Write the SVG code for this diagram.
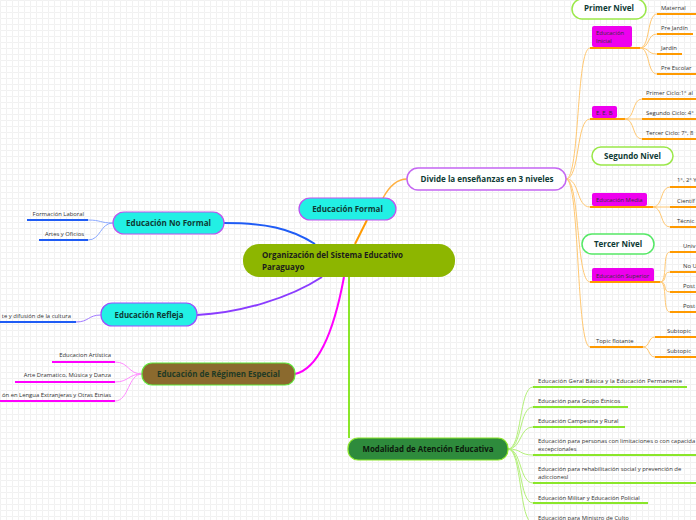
<svg xmlns="http://www.w3.org/2000/svg" width="696" height="520" viewBox="0 0 696 520">
<defs>
<pattern id="grid" width="6" height="6" patternUnits="userSpaceOnUse"><path d="M6 0.5H0.5V6" fill="none" stroke="#f1f1f1" stroke-width="1"/></pattern>
<style>
text{font-family:"Open Sans","Liberation Sans",sans-serif;}
.s{font-size:5.9px;fill:#333;}
.b{font-weight:bold;font-size:8px;}
.dk{fill:#0e3b35;}
.mag{fill:#ee00ee;}
.ul-o{stroke:#ff9a00;stroke-width:2;fill:none;}
.cv-o{stroke:#ffc872;stroke-width:1;fill:none;}
.ul-b{stroke:#1f5cf5;stroke-width:2;fill:none;}
.cv-b{stroke:#8aa8ff;stroke-width:1;fill:none;}
.ul-m{stroke:#ff00ff;stroke-width:2;fill:none;}
.cv-m{stroke:#ff8cff;stroke-width:1;fill:none;}
.ul-g{stroke:#8ae62a;stroke-width:2;fill:none;}
.cv-g{stroke:#b4f07a;stroke-width:1;fill:none;}
</style>
</defs>
<rect width="696" height="520" fill="#ffffff"/>
<rect width="696" height="520" fill="url(#grid)"/>

<g id="connectors">
<path d="M355,244 L367,220" stroke="#ff9a00" stroke-width="2" fill="none"/>
<path d="M315,244 C290,228 265,223 224,223" stroke="#1f5cf5" stroke-width="2" fill="none"/>
<path d="M322,277 C290,298 240,313 197,315" stroke="#8a3cff" stroke-width="2" fill="none"/>
<path d="M344,277 C336,320 322,368 295,374" stroke="#ff00ff" stroke-width="2" fill="none"/>
<path d="M349,277 L349,438" stroke="#8ae62a" stroke-width="2" fill="none"/>
<path d="M383,198 C390,185 397,179 407,179" stroke="#ffb040" stroke-width="1.5" fill="none"/>
<path class="cv-o" d="M566,179 C580,179 576,48 590,48"/>
<path class="cv-o" d="M566,179 C580,179 576,119 590,119"/>
<path class="cv-o" d="M566,179 C580,179 576,207 590,207"/>
<path class="cv-o" d="M566,179 C580,179 576,282 590,282"/>
<path class="cv-o" d="M566,179 C580,179 576,347 590,347"/>
<path class="cv-o" d="M640,48 C650,48 647,14 657,14"/>
<path class="cv-o" d="M640,48 C650,48 647,34 657,34"/>
<path class="cv-o" d="M640,48 C650,48 647,54 657,54"/>
<path class="cv-o" d="M640,48 C650,48 647,74 657,74"/>
<path class="cv-o" d="M625,119 C635,119 632,99 642,99"/>
<path class="cv-o" d="M625,119 L642,119"/>
<path class="cv-o" d="M625,119 C635,119 632,139 642,139"/>
<path class="cv-o" d="M653,207 C663,207 660,187 670,187"/>
<path class="cv-o" d="M653,207 L670,207"/>
<path class="cv-o" d="M653,207 C663,207 660,227 670,227"/>
<path class="cv-o" d="M660,282 C668,282 662,252 670,252"/>
<path class="cv-o" d="M660,282 C668,282 662,272 670,272"/>
<path class="cv-o" d="M660,282 C668,282 662,292 670,292"/>
<path class="cv-o" d="M660,282 C668,282 662,312 670,312"/>
<path class="cv-o" d="M643,347 C650,347 648,337 655,337"/>
<path class="cv-o" d="M643,347 C650,347 648,357 655,357"/>
<path class="cv-b" d="M113,223 C100,223 101,220 88,220"/>
<path class="cv-b" d="M113,223 C100,223 101,240 88,240"/>
<path stroke="#a078ff" stroke-width="1" fill="none" d="M101,315 C88,315 89,322 76,322"/>
<path class="cv-m" d="M142,374 C128,374 129,362 115,362"/>
<path class="cv-m" d="M142,374 C128,374 129,382 115,382"/>
<path class="cv-m" d="M142,374 C128,374 129,401 115,401"/>
<path class="cv-g" d="M508,449 C522,449 519,387 533,387"/>
<path class="cv-g" d="M508,449 C522,449 519,407 533,407"/>
<path class="cv-g" d="M508,449 C522,449 519,427 533,427"/>
<path class="cv-g" d="M508,449 C522,449 519,455 533,455"/>
<path class="cv-g" d="M508,449 C522,449 519,483 533,483"/>
<path class="cv-g" d="M508,449 C522,449 519,503 533,503"/>
<path class="cv-g" d="M508,449 C522,449 519,523 533,523"/>
</g>

<g id="central">
<rect x="243" y="244" width="212" height="33" rx="16" fill="#8db600"/>
<text class="b" x="262" y="258" fill="#1c1c1c" textLength="141" lengthAdjust="spacingAndGlyphs">Organización del Sistema Educativo</text>
<text class="b" x="262" y="270" fill="#1c1c1c">Paraguayo</text>
</g>

<g id="educacion-formal">
<rect x="299" y="198" width="97" height="22" rx="11" fill="#22f0e4" stroke="#c050f0" stroke-width="1.2"/>
<text class="b dk" x="347.5" y="212" text-anchor="middle">Educación Formal</text>
</g>

<g id="divide">
<rect x="407" y="168" width="159" height="22" rx="11" fill="#ffffff" stroke="#c466f2" stroke-width="1.5"/>
<text class="b dk" x="487" y="182" text-anchor="middle" font-size="7.5" textLength="133" lengthAdjust="spacingAndGlyphs">Divide la enseñanzas en 3 niveles</text>
</g>

<g id="primer-nivel">
<rect x="572" y="-1" width="74" height="20" rx="10" fill="#ffffff" stroke="#9be84a" stroke-width="1.5"/>
<text class="b dk" x="609" y="11" text-anchor="middle" font-size="8.5">Primer Nivel</text>
</g>
<g id="segundo-nivel">
<rect x="592" y="147" width="81" height="18" rx="9" fill="#ffffff" stroke="#9be84a" stroke-width="1.5"/>
<text class="b dk" x="632.5" y="159" text-anchor="middle" font-size="8">Segundo Nivel</text>
</g>
<g id="tercer-nivel">
<rect x="582" y="234" width="72" height="20" rx="10" fill="#ffffff" stroke="#55e866" stroke-width="1.5"/>
<text class="b dk" x="618" y="247" text-anchor="middle" font-size="8.5">Tercer Nivel</text>
</g>

<g id="educacion-inicial">
<rect class="mag" x="592" y="26" width="40" height="21" rx="2"/>
<text class="s" x="596" y="35" font-size="5.5" fill="#222">Educación</text>
<text class="s" x="596" y="43" font-size="5.5" fill="#222">Inicial</text>
<path class="ul-o" d="M590,48 H640"/>
</g>
<g id="maternal"><text class="s" x="661" y="9.5">Maternal</text><path class="ul-o" d="M657,14 H696"/></g>
<g id="pre-jardin"><text class="s" x="661" y="29.5">Pre Jardín</text><path class="ul-o" d="M657,34 H693"/></g>
<g id="jardin"><text class="s" x="661" y="49.5">Jardín</text><path class="ul-o" d="M657,54 H682"/></g>
<g id="pre-escolar"><text class="s" x="661" y="69.5">Pre Escolar</text><path class="ul-o" d="M657,74 H696"/></g>

<g id="eeb">
<rect class="mag" x="592" y="106" width="25" height="12" rx="2"/>
<text class="s" x="596" y="114.5" font-size="5.5" fill="#222">E. E. B</text>
<path class="ul-o" d="M590,119 H625"/>
</g>
<g id="primer-ciclo"><text class="s" x="646" y="94.5">Primer Ciclo:1° al</text><path class="ul-o" d="M642,99 H696"/></g>
<g id="segundo-ciclo"><text class="s" x="646" y="114.5">Segundo Ciclo: 4°</text><path class="ul-o" d="M642,119 H696"/></g>
<g id="tercer-ciclo"><text class="s" x="646" y="134.5">Tercer Ciclo: 7°, 8</text><path class="ul-o" d="M642,139 H696"/></g>

<g id="educacion-media">
<rect class="mag" x="592" y="193" width="55" height="13" rx="2"/>
<text class="s" x="596" y="202" font-size="5.5" fill="#222">Educación Media</text>
<path class="ul-o" d="M590,207 H653"/>
</g>
<g id="media-1"><text class="s" x="677" y="181.5">1°, 2° Y</text><path class="ul-o" d="M670,187 H696"/></g>
<g id="media-2"><text class="s" x="677" y="202.5">Científ</text><path class="ul-o" d="M670,207 H696"/></g>
<g id="media-3"><text class="s" x="677" y="222.5">Técnic</text><path class="ul-o" d="M670,227 H696"/></g>

<g id="educacion-superior">
<rect class="mag" x="592" y="268" width="62" height="14" rx="2"/>
<text class="s" x="596" y="277.5" font-size="5.5" fill="#222">Educación Superior</text>
<path class="ul-o" d="M590,282 H660"/>
</g>
<g id="sup-1"><text class="s" x="683" y="247.5">Univ</text><path class="ul-o" d="M670,252 H696"/></g>
<g id="sup-2"><text class="s" x="683" y="267.5">No U</text><path class="ul-o" d="M670,272 H696"/></g>
<g id="sup-3"><text class="s" x="683" y="287.5">Post</text><path class="ul-o" d="M670,292 H696"/></g>
<g id="sup-4"><text class="s" x="683" y="307.5">Post</text><path class="ul-o" d="M670,312 H696"/></g>

<g id="topic-flotante"><text class="s" x="596" y="342.5">Topic flotante</text><path class="ul-o" d="M590,347 H643"/></g>
<g id="subtopic-1"><text class="s" x="667" y="332.5">Subtopic</text><path class="ul-o" d="M655,337 H696"/></g>
<g id="subtopic-2"><text class="s" x="667" y="352.5">Subtopic</text><path class="ul-o" d="M655,357 H696"/></g>

<g id="educacion-no-formal">
<rect x="113" y="212" width="111" height="22" rx="11" fill="#22f0e4" stroke="#c050f0" stroke-width="1.2"/>
<text class="b dk" x="168.5" y="226" text-anchor="middle" textLength="85" lengthAdjust="spacingAndGlyphs">Educación No Formal</text>
</g>
<g id="formacion-laboral"><text class="s" x="84" y="215.5" text-anchor="end">Formación Laboral</text><path class="ul-b" d="M27,220 H88"/></g>
<g id="artes-oficios"><text class="s" x="84" y="235.5" text-anchor="end">Artes y Oficios</text><path class="ul-b" d="M39,240 H88"/></g>

<g id="educacion-refleja">
<rect x="101" y="303" width="96" height="23" rx="11" fill="#22f0e4" stroke="#9a4cff" stroke-width="1.2"/>
<text class="b dk" x="149" y="318" text-anchor="middle" textLength="69" lengthAdjust="spacingAndGlyphs">Educación Refleja</text>
</g>
<g id="arte-cultura"><text class="s" x="71" y="317.5" text-anchor="end">te y difusión de la cultura</text><path class="ul-b" d="M0,322 H76"/></g>

<g id="regimen-especial">
<rect x="142" y="363" width="153" height="22" rx="10" fill="#8b6a2e" stroke="#5ee83a" stroke-width="1.2"/>
<text class="b" x="218.5" y="377" text-anchor="middle" fill="#1f3a25" textLength="123" lengthAdjust="spacingAndGlyphs">Educación de Régimen Especial</text>
</g>
<g id="artistica"><text class="s" x="111" y="356.5" text-anchor="end">Educacion Artística</text><path class="ul-m" d="M52,362 H115"/></g>
<g id="dramatico"><text class="s" x="111" y="376.5" text-anchor="end">Arte  Dramatico, Música y Danza</text><path class="ul-m" d="M15,382 H115"/></g>
<g id="lengua"><text class="s" x="111" y="396.5" text-anchor="end">ón en Lengua Extranjeras y  Otras Etnias</text><path class="ul-m" d="M0,401 H115"/></g>

<g id="modalidad">
<rect x="348" y="438" width="160" height="22" rx="10" fill="#2e8b3c" stroke="#8ae62a" stroke-width="1.2"/>
<text class="b" x="428" y="452" text-anchor="middle" fill="#0c1a0c" textLength="131" lengthAdjust="spacingAndGlyphs">Modalidad de Atención Educativa</text>
</g>
<g id="mod-1"><text class="s" x="538" y="382.5" textLength="144" lengthAdjust="spacing">Educación  Geral Básica y la Educación Permanente</text><path class="ul-g" d="M533,387 H687"/></g>
<g id="mod-2"><text class="s" x="538" y="402.5">Educación  para Grupo Étnicos</text><path class="ul-g" d="M533,407 H628"/></g>
<g id="mod-3"><text class="s" x="538" y="422.5">Educación Campesina y Rural</text><path class="ul-g" d="M533,427 H625"/></g>
<g id="mod-4"><text class="s" x="538" y="442.5">Educación para personas con limitaciones o con capacida</text><text class="s" x="538" y="450.5">excepcionales</text><path class="ul-g" d="M533,455 H696"/></g>
<g id="mod-5"><text class="s" x="538" y="470.5">Educación para rehabilitación social y prevención de</text><text class="s" x="538" y="479">adiccionesl</text><path class="ul-g" d="M533,483 H696"/></g>
<g id="mod-6"><text class="s" x="538" y="499.5">Educación Militar y  Educación Policial</text><path class="ul-g" d="M533,503 H648"/></g>
<g id="mod-7"><text class="s" x="538" y="519.5">Educación  para Ministro de Culto</text><path class="ul-g" d="M533,523 H620"/></g>
</svg>
